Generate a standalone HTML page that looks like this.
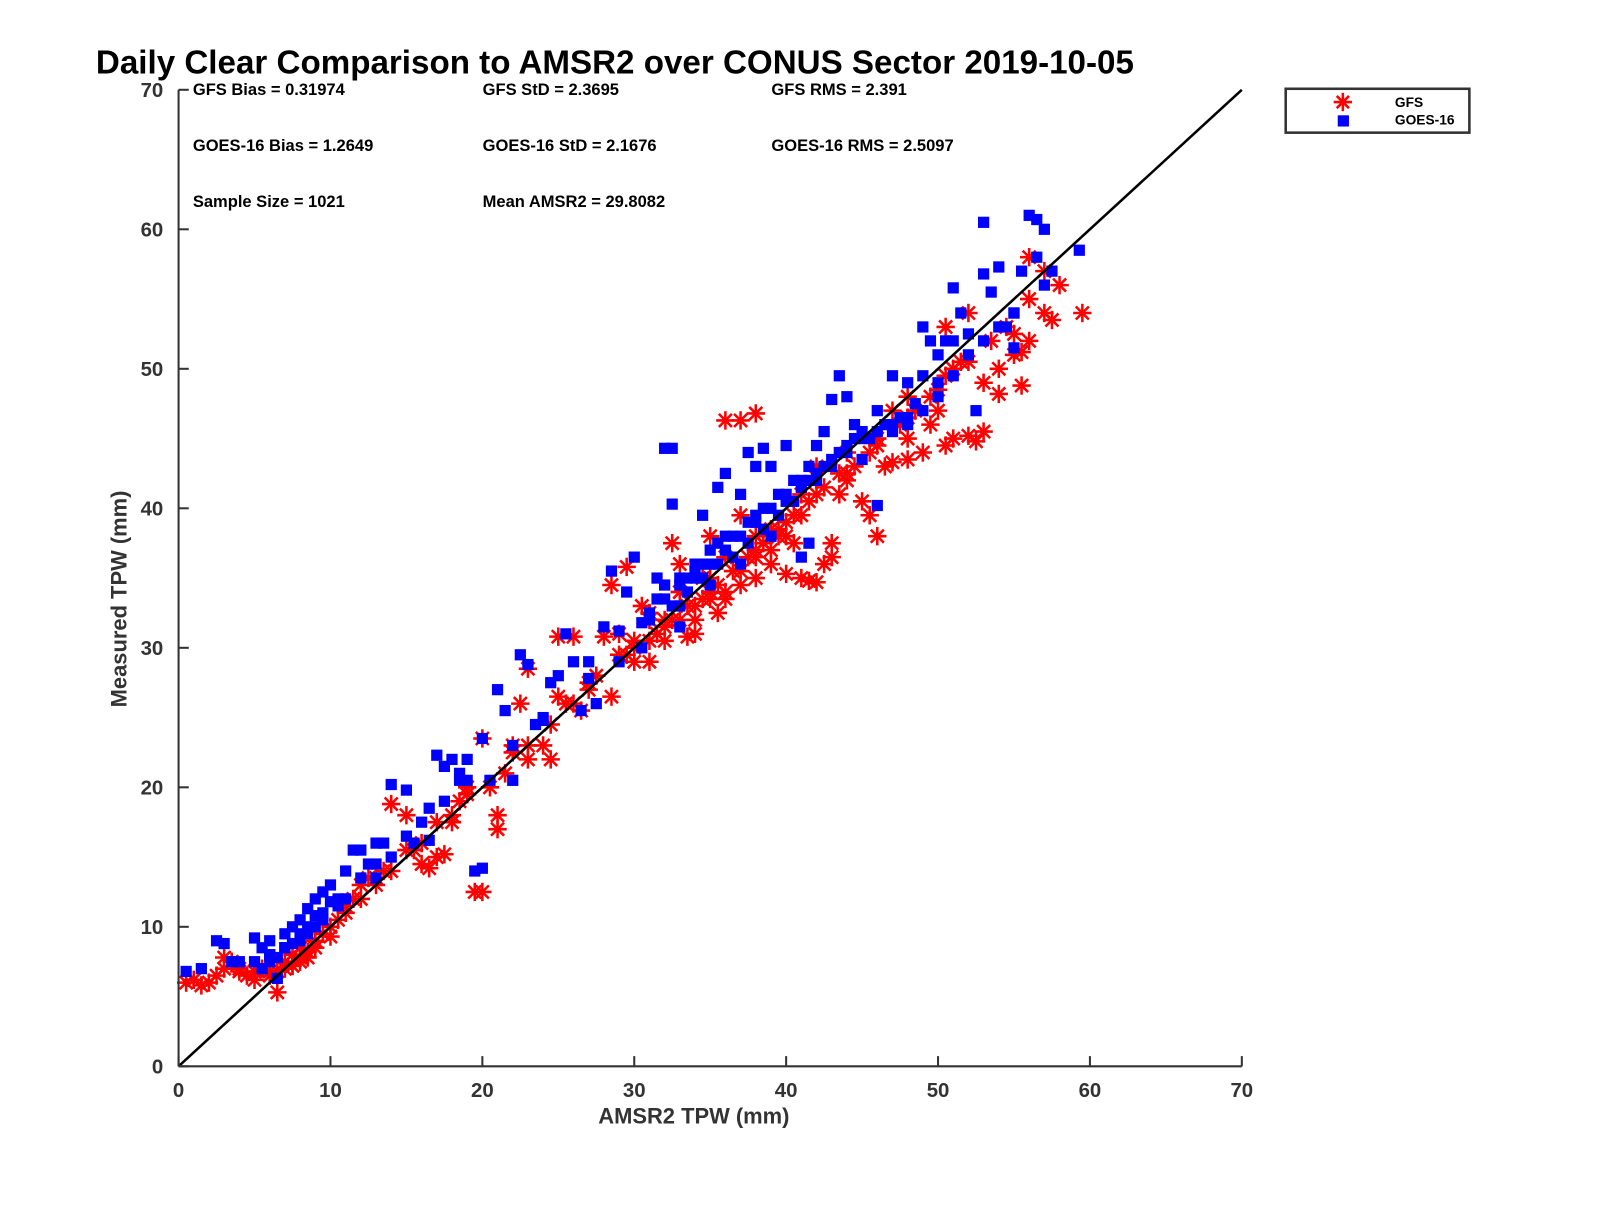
<!DOCTYPE html>
<html><head><meta charset="utf-8"><style>
body{margin:0;background:#fff;}
svg text{font-family:"Liberation Sans",Arial,sans-serif;font-weight:bold;}
</style></head><body>
<svg id="chart" width="1600" height="1200" xmlns="http://www.w3.org/2000/svg">
<rect width="1600" height="1200" fill="#fff"/>
<g transform="scale(1.0204)">
<text x="94" y="72" font-size="32.5" fill="#000">Daily Clear Comparison to AMSR2 over CONUS Sector 2019-10-05</text>
<g font-size="16.2" fill="#000">
<text x="189" y="93">GFS Bias = 0.31974</text>
<text x="473" y="93">GFS StD = 2.3695</text>
<text x="756" y="93">GFS RMS = 2.391</text>
<text x="189" y="148">GOES-16 Bias = 1.2649</text>
<text x="473" y="148">GOES-16 StD = 2.1676</text>
<text x="756" y="148">GOES-16 RMS = 2.5097</text>
<text x="189" y="203">Sample Size = 1021</text>
<text x="473" y="203">Mean AMSR2 = 29.8082</text>
</g>
<g id="marks"></g>
<g id="axes"></g>
<text x="680" y="1101" font-size="21.5" fill="#333" text-anchor="middle">AMSR2 TPW (mm)</text>
<text transform="translate(124,587) rotate(-90)" font-size="21.5" fill="#333" text-anchor="middle">Measured TPW (mm)</text>
<g>
<rect x="1260" y="87" width="180" height="43" fill="#fff" stroke="#333" stroke-width="2.5"/>
<g stroke="red" stroke-width="2.5"><line x1="1307" y1="100" x2="1325" y2="100"/><line x1="1316" y1="91" x2="1316" y2="109"/><line x1="1310" y1="94" x2="1322" y2="106"/><line x1="1322" y1="94" x2="1310" y2="106"/></g>
<rect x="1311" y="113" width="11" height="11" fill="blue"/>
<text x="1367" y="105" font-size="13.5">GFS</text>
<text x="1367" y="122" font-size="13.5">GOES-16</text>
</g>
</g>
</svg>
<script>
const xTicks=[0,10,20,30,40,50,60,70];
const yTicks=[0,10,20,30,40,50,60,70];
const gfsX=[0.5,1,1.5,2,2.5,3,3.5,4,4.5,5,5.5,6,6.5,7,7.5,8,8.5,9,9.5,10,10.5,11,11.5,12,12.5,13,13.5,14,15,15.5,16,16.5,17,17.5,18,18.5,19,19.5,20,20,20.5,21,21,21.5,22,22.5,23,23,24,24.5,25,25,26,26.5,27,28,28.5,28.5,29,29.5,30,30.5,31,31,32,32.5,33,33.5,34,34.5,35,35.5,36,36,37,37,38,38,39,39.5,40,40.5,41,41.5,42,42.5,43,43,43.5,44,45,45.5,46,46.5,47,48,48,49,49.5,50,50.5,51,52,52.5,53,53,54,54,55,55.5,55.5,56,56,57,57.5,58,59.5,57,56,50.5,51,52,48,47,44,41,38,35,32,30,26,23,18,16,14,12,9,8,37,42,33,46,34,36,39,31,33,35,38,40,6,7,8,9,10,5,7.5,8.5,31.5,32.5,33.5,34.5,35.5,36.5,37.5,38.5,39.5,40.5,41.5,42.5,43.5,44.5,45.5,47.5,48.5,49.5,50.5,51.5,53.5,54.5,55,30,29,27.5,25.5,34,35,36,37,38,39,40,41,42,44,46,48,50,52,33,32,31,29.5,27,24.5,22,19,17,15,13,11,6.5,7.5,3,4];
const gfsY=[6,6.2,5.8,6,6.5,7.8,7.5,7,6.5,6.2,7,6.5,5.3,7.5,8,8.5,7.8,9,9.5,10,10.5,11,12,13,13.5,13,14,18.8,18,15.5,14.5,14.2,15,15.2,17.5,19,20,12.5,12.5,23.5,20,17,18,21,23,26,28.5,22,23,22,26.5,30.8,30.8,25.5,27.5,30.8,34.5,26.5,31,35.8,29,33,32.5,29,30.5,37.5,34,30.8,31,35,38,32.5,33.5,46.3,34.5,46.3,46.8,35,36,38,35.3,37.5,35,34.8,34.7,36,37.5,36.5,41,42,40.5,39.5,38,43,43.3,43.5,45,44,46,47,44.5,45,45.2,44.8,45.5,49,50,48.2,51,48.8,51.2,52,55,54,53.5,56,54,57,58,53,50,54,48,47,44,41,38,35,32,30,26,23,18,16,14,12,9,7.5,39.5,43,36,45,33,36.5,38.5,32,34,34,37,39,6.8,7,7.8,8.5,9.3,6.8,7.2,8.2,31,32,33,33.5,34.5,35.5,36.5,37.5,38.5,39.5,40.5,41.5,42.5,43,44,46,47,48,49.5,50.5,52,53,52.5,30.5,29.5,28,26,32,33.5,34,35.5,36.5,37,38,39.5,41,42.5,44.5,46.5,48.5,50.5,32,31.5,30.5,29.5,27,24.5,22.5,19.5,17.5,15.5,13.5,11.5,6.8,7.2,7,6.8];
const goesX=[0.5,1.5,2.5,3,3.5,5,5.5,6,6.5,7,7.5,8,8.5,9,9.5,10,10.5,11,11.5,12,12.5,13,13.5,14,15,15.5,16,16.5,17,17.5,18,18.5,19,19.5,20,20,20.5,22,21,21.5,22.5,23,23.5,24,24.5,25,25.5,26,26.5,27,27.5,28,28.5,29,29.5,30,30.5,31,31.5,32,32.5,32,32.5,33,34,34.5,35,35.5,36,37,37.5,38,38.5,39,40,41,41,41.5,42,42.5,43,43.5,44,44.5,45,46,46.5,47,48,48.5,49,49.5,50,50.5,51,51.5,52,52.5,53,53,53.5,54,54.5,55,55,55.5,56,56.5,57,57.5,59.3,56.5,57,48,44,40,38,36,34,33,31.5,29,27,24,22,19,16.5,14,13,11,9.5,8.5,7,6,5,4,37,39,42,45,50,47,43,35,33,30.5,33.5,34.5,35.5,36.5,37.5,38.5,39.5,40.5,41.5,44.5,46,49,51,5.5,6,6.5,7,7.5,8,8.5,9,9.5,10,32,33,34,35,36,37,38,39,40,41,42,43,44,45,46,47,48,49,50,51,52,53,54,55,31,32.5,33.5,34.5,35.5,36.5,37.5,38.5,39.5,40.5,41.5,42.5,43.5,45.5,47.5,6,7,8,9,10.5,12,13,15,17.5,18.5];
const goesY=[6.8,7,9,8.8,7.5,9.2,8.5,9,6.3,9.5,10,10.5,11.3,12,12.5,13,11.5,14,15.5,15.5,14.5,16,16,20.2,19.8,16,17.5,18.5,22.3,21.5,22,21,22,14,14.2,23.5,20.5,20.5,27,25.5,29.5,28.8,24.5,25,27.5,28,31,29,25.5,29,26,31.5,35.5,29,34,36.5,30,32,35,44.3,44.3,34.5,40.3,35,36,39.5,37,41.5,42.5,41,44,43,44.3,43,44.5,42,36.5,37.5,44.5,45.5,47.8,49.5,48,46,43.5,40.2,46,49.5,49,47.5,53,52,51,52,55.8,54,52.5,47,60.5,56.8,55.5,57.3,53,54,51.5,57,61,60.7,60,57,58.5,58,56,46,44.5,41,39.5,38,35.5,33,33.5,31.2,27.8,24.8,23,20.5,16.2,15,13.5,12,10.5,9.5,8.5,7.5,7.5,7.5,36,38,42,45.5,49,45.5,43.5,34.5,31.5,31.8,35,36,37.5,38,39,40,41,42,43,45,47,49.5,52,7,8,7.8,8.5,8.8,9.5,10,10.8,11,11.8,33.5,34.5,35,36,37,38,39,40,40.5,41.5,42.5,43,44,45,45.5,46,46.5,47,48,49.5,51,52,53,54,32.5,33,34,35,36,36.5,37.5,38.5,39.5,40.5,42,43,44,45,46.5,8,8.5,9,10,12,13.5,14.5,16.5,19,20.5];
const X0=175,X1=1217,Y0=1045,Y1=88;
function sx(v){return X0+(X1-X0)*v/70;}
function sy(v){return Y0-(Y0-Y1)*v/70;}
const NS="http://www.w3.org/2000/svg";
const marks=document.getElementById('marks');
function mk(t,a,p){const e=document.createElementNS(NS,t);for(const k in a)e.setAttribute(k,a[k]);p.appendChild(e);return e;}
const gG=mk('g',{stroke:'red','stroke-width':2.5},marks);


gfsX.forEach((x,i)=>{const cx=sx(x),cy=sy(gfsY[i]),r=9,d=6.4;
 const g=mk('g',{},gG);
 
 
 mk('line',{x1:cx-r,y1:cy,x2:cx+r,y2:cy},g);mk('line',{x1:cx,y1:cy-r,x2:cx,y2:cy+r},g);
 mk('line',{x1:cx-d,y1:cy-d,x2:cx+d,y2:cy+d},g);mk('line',{x1:cx+d,y1:cy-d,x2:cx-d,y2:cy+d},g);});
const bG=mk('g',{fill:'blue'},marks);


goesX.forEach((x,i)=>{const r=mk('rect',{x:sx(x)-5.5,y:sy(goesY[i])-5.5,width:11,height:11},bG);
 
 });
const ref=mk('line',{x1:sx(0),y1:sy(0),x2:sx(70),y2:sy(70),stroke:'#000','stroke-width':2.5},marks);


const ax=document.getElementById('axes');
const xa=mk('line',{x1:X0,y1:Y0,x2:X1,y2:Y0,stroke:'#333','stroke-width':2},ax);


const ya=mk('line',{x1:X0,y1:Y0,x2:X0,y2:Y1,stroke:'#333','stroke-width':2},ax);


xTicks.forEach(v=>{mk('line',{x1:sx(v),y1:Y0,x2:sx(v),y2:Y0-10,stroke:'#333','stroke-width':2},ax);
 const t=mk('text',{x:sx(v),y:Y0+30,'font-size':20,fill:'#333','text-anchor':'middle'},ax);t.textContent=v;
 
 });
yTicks.forEach(v=>{mk('line',{x1:X0,y1:sy(v),x2:X0+10,y2:sy(v),stroke:'#333','stroke-width':2},ax);
 const t=mk('text',{x:X0-15,y:sy(v)+7,'font-size':20,fill:'#333','text-anchor':'end'},ax);t.textContent=v;
 
 });
</script>
</body></html>
